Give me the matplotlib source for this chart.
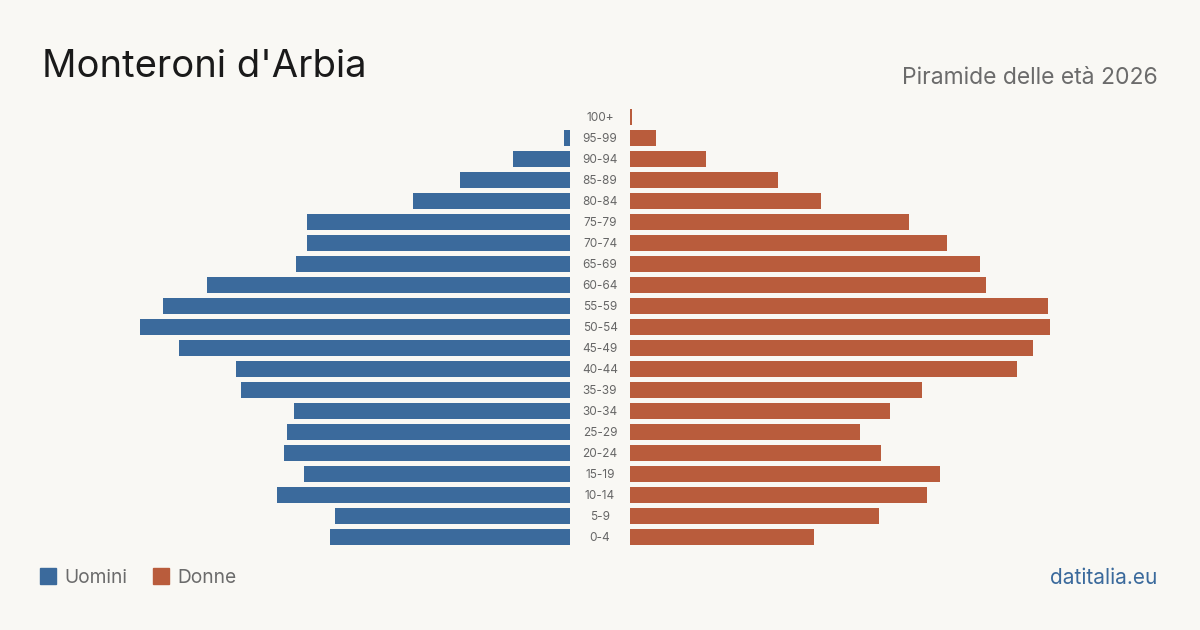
import matplotlib
matplotlib.use("Agg")
import matplotlib.pyplot as plt
from matplotlib.patches import Rectangle

plt.rcParams['font.family'] = ['Inter', 'DejaVu Sans']

age_groups = ["100+", "95-99", "90-94", "85-89", "80-84", "75-79", "70-74", "65-69",
              "60-64", "55-59", "50-54", "45-49", "40-44", "35-39", "30-34", "25-29",
              "20-24", "15-19", "10-14", "5-9", "0-4"]
men = [0, 6, 57, 110, 157, 263, 263, 274, 363, 407, 430, 391, 334, 329, 276, 283,
       286, 266, 293, 235, 240]
women = [2, 26, 76, 148, 191, 279, 317, 350, 356, 418, 420, 403, 387, 292, 260, 230,
         251, 310, 297, 249, 184]

BG = "#f9f8f4"
BLUE = "#3b6a9c"
ORANGE = "#b95c3c"
W, H = 1200, 630

fig = plt.figure(figsize=(12, 6.3), dpi=100, facecolor=BG)

bottom = 1 - 547.5 / H
height = 441 / H
axL = fig.add_axes([100 / W, bottom, 470 / W, height])
axR = fig.add_axes([630 / W, bottom, 470 / W, height])

ypos = list(range(len(age_groups)))
for ax in (axL, axR):
    ax.set_facecolor("none")
    ax.set_ylim(len(age_groups) - 0.5, -0.5)
    ax.axis("off")

axL.barh(ypos, men, height=0.8, color=BLUE)
axL.set_xlim(470, 0)
axR.barh(ypos, women, height=0.8, color=ORANGE)
axR.set_xlim(0, 470)

for i, lab in enumerate(age_groups):
    y = 1 - (118 + 21 * i) / H
    fig.text(600 / W, y, lab, ha="center", va="center", fontsize=8.5, color="#666666")

fig.text(42 / W, 1 - 67 / H, "Monteroni d'Arbia", fontsize=27.5, color="#1a1a1a",
         ha="left", va="center")
fig.text(1158 / W, 1 - 78 / H, "Piramide delle età 2026", fontsize=16.5, color="#6b6b6b",
         ha="right", va="center")

# legend
fig.patches.append(Rectangle((40 / W, 1 - 584 / H), 16 / W, 16 / H,
                             transform=fig.transFigure, color=BLUE))
fig.text(64 / W, 1 - 578 / H, "Uomini", fontsize=13.8, color="#6b6b6b", ha="left", va="center")
fig.patches.append(Rectangle((153 / W, 1 - 584 / H), 16 / W, 16 / H,
                             transform=fig.transFigure, color=ORANGE))
fig.text(177 / W, 1 - 578 / H, "Donne", fontsize=13.8, color="#6b6b6b", ha="left", va="center")

fig.text(1157 / W, 1 - 578 / H, "datitalia.eu", fontsize=15, color=BLUE,
         ha="right", va="center")

fig.savefig("out.png", dpi=100, facecolor=BG)
